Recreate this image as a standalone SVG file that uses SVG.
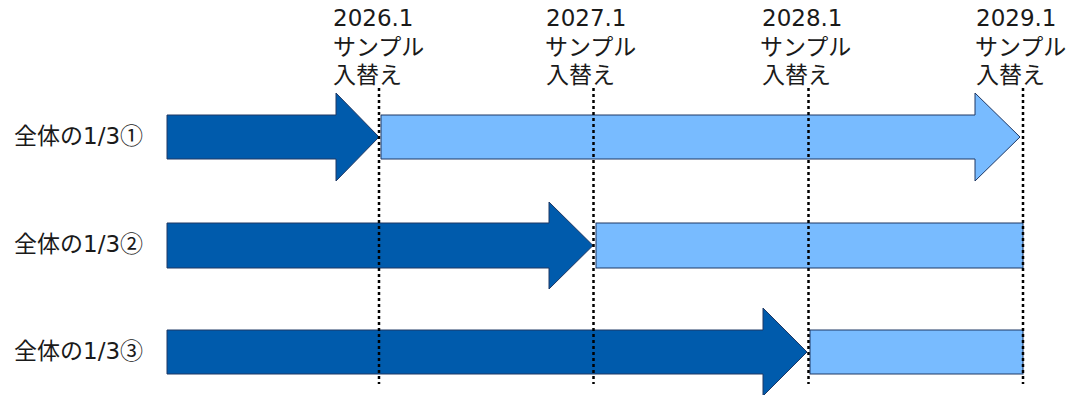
<svg xmlns="http://www.w3.org/2000/svg" width="1072" height="395" viewBox="0 0 1072 395">
  <style>
    .t { font-family: "DejaVu Sans", "Noto Sans CJK JP", sans-serif; font-size: 23px; fill: #1a1a1a; }
    .c { font-family: "Noto Sans CJK JP", sans-serif; }
    .dark { fill: #005BAC; stroke: #1F3864; stroke-width: 1; }
    .light { fill: #78BBFF; stroke: #1F3864; stroke-width: 1; }
    .guide { stroke: #000; stroke-width: 2.5; stroke-dasharray: 3 3; fill: none; }
  </style>
  <rect width="1072" height="395" fill="#fff"/>

  <g id="row1">
    <text class="t" x="14" y="144">全体の1/3<tspan class="c">①</tspan></text>
    <polygon class="dark" points="167,115 336,115 336,93 379,137 336,181 336,159 167,159"/>
    <polygon class="light" points="381,115 975,115 975,93 1020,137 975,181 975,159 381,159"/>
  </g>
  <g id="row2">
    <text class="t" x="14" y="252">全体の1/3<tspan class="c">②</tspan></text>
    <polygon class="dark" points="167,223 549,223 549,202 593,245.5 549,289 549,268 167,268"/>
    <rect class="light" x="596" y="223" width="427" height="45"/>
  </g>
  <g id="row3">
    <text class="t" x="14" y="359">全体の1/3<tspan class="c">③</tspan></text>
    <polygon class="dark" points="167,330 763,330 763,308 807,352 763,396 763,374 167,374"/>
    <rect class="light" x="810" y="330" width="213" height="44"/>
  </g>

  <g id="m2026">
    <text class="t" x="333" y="26">2026.1</text>
    <text class="t" x="333" y="55">サンプル</text>
    <text class="t" x="333" y="83">入替え</text>
  </g>
  <g id="m2027">
    <text class="t" x="546" y="26">2027.1</text>
    <text class="t" x="545" y="55">サンプル</text>
    <text class="t" x="546" y="83">入替え</text>
  </g>
  <g id="m2028">
    <text class="t" x="762" y="26">2028.1</text>
    <text class="t" x="760" y="55">サンプル</text>
    <text class="t" x="762" y="83">入替え</text>
  </g>
  <g id="m2029">
    <text class="t" x="976" y="26">2029.1</text>
    <text class="t" x="975" y="55">サンプル</text>
    <text class="t" x="976" y="83">入替え</text>
  </g>

  <g id="connectors">
    <line class="guide" x1="379" y1="88" x2="379" y2="384"/>
    <line class="guide" x1="593.5" y1="88" x2="593.5" y2="384"/>
    <line class="guide" x1="808.5" y1="88" x2="808.5" y2="384"/>
    <line class="guide" x1="1023" y1="88" x2="1023" y2="384"/>
  </g>
</svg>
